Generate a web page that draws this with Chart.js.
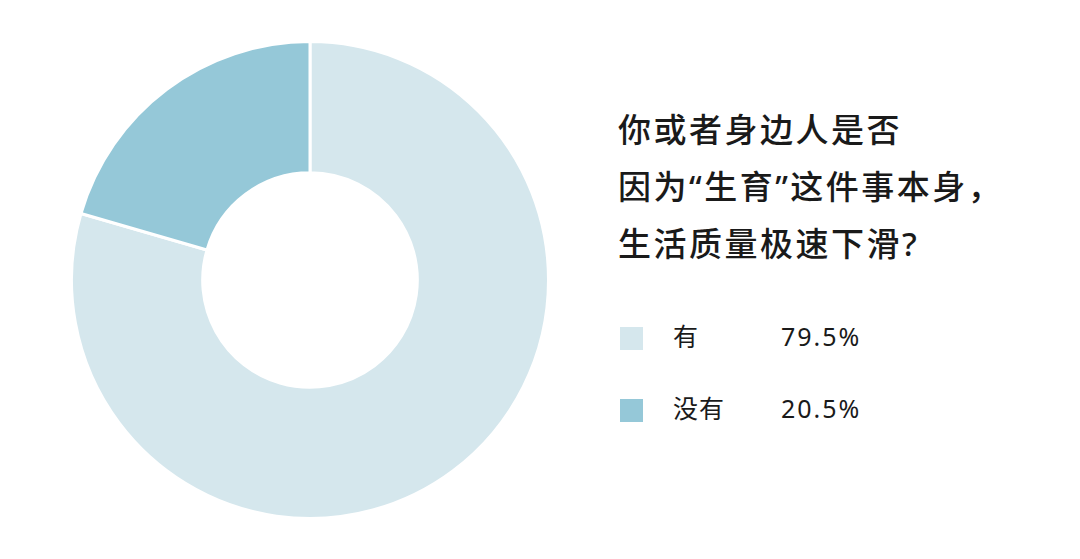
<!DOCTYPE html>
<html>
<head>
<meta charset="utf-8">
<script src="https://cdn.jsdelivr.net/npm/chart.js@4"></script>
<style>
  html, body { margin: 0; padding: 0; background: #fff; }
  body { width: 1080px; height: 559px; position: relative; overflow: hidden;
         font-family: "Noto Sans", "Noto Sans CJK SC", sans-serif; color: #1a1a1a; }
  #pie { position: absolute; left: 70px; top: 40px; width: 480px; height: 480px; }
  #title { position: absolute; left: 618px; top: 101px; font-size: 33px; font-weight: 500;
           line-height: 57px; letter-spacing: 2.5px; margin: 0; white-space: nowrap; }
  #legend { position: absolute; left: 620px; top: 320px; font-size: 25px; white-space: nowrap; }
  .row { position: relative; height: 72px; }
  .sw { position: absolute; left: 0; top: 7px; width: 23px; height: 23px; }
  .lb { position: absolute; left: 53px; top: -2px; line-height: 37px; letter-spacing: 1px; }
  .pc { position: absolute; left: 161px; top: -2px; line-height: 37px; letter-spacing: 2px; }
</style>
</head>
<body>
<div id="pie"><canvas id="chart"></canvas></div>
<div id="title"></div>
<div id="legend"></div>
<script>
// data
const titleLines = ["你或者身边人是否", "因为“生育”这件事本身，", "生活质量极速下滑?"];
const labels = ["有", "没有"];
const values = [79.5, 20.5];
const colors = ["#d5e7ed", "#95c8d8"];

document.getElementById("title").innerHTML = titleLines.join("<br>");

// legend
const legend = document.getElementById("legend");
labels.forEach((lab, i) => {
    const row = document.createElement("div");
    row.className = "row";
    row.innerHTML = `<div class="sw" style="background:${colors[i]}"></div>` +
        `<span class="lb">${lab}</span><span class="pc">${values[i].toFixed(1)}%</span>`;
    legend.appendChild(row);
});

// doughnut
new Chart(document.getElementById("chart").getContext("2d"), {
    type: "doughnut",
    data: {
        labels: labels,
        datasets: [{
            data: values,
            backgroundColor: colors,
            borderColor: "#ffffff",
            borderWidth: 3,
        }],
    },
    options: {
        responsive: true,
        maintainAspectRatio: false,
        animation: false,
        cutout: "45%",
        layout: { padding: 0 },
        plugins: {
            legend: { display: false },
            tooltip: { enabled: false },
        },
    },
});
</script>
</body>
</html>
